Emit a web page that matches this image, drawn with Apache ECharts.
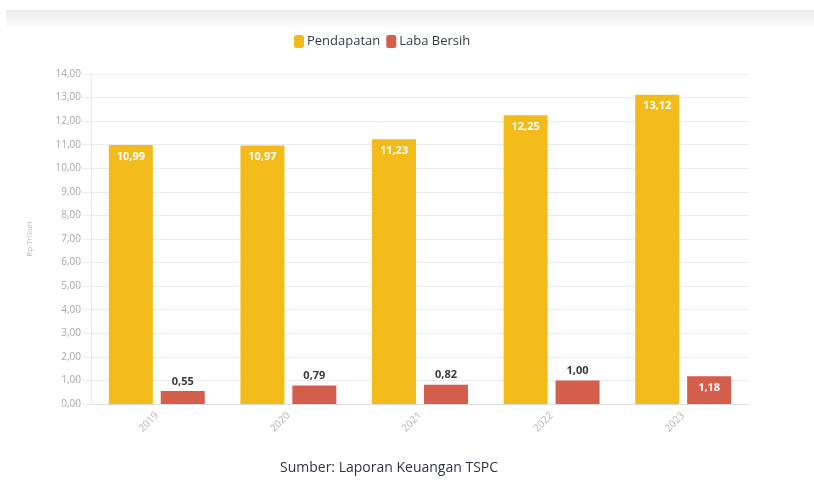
<!DOCTYPE html>
<html>
<head>
<meta charset="utf-8">
<script src="https://cdn.jsdelivr.net/npm/echarts@6/dist/echarts.min.js"></script>
<style>
html,body{margin:0;padding:0;background:#fff;}
#c{width:814px;height:482px;}
</style>
</head>
<body>
<div id="c"></div>
<script>
var categories = ['2019', '2020', '2021', '2022', '2023'];
var pendapatan = [10.99, 10.97, 11.23, 12.25, 13.12];
var labaBersih = [0.55, 0.79, 0.82, 1.00, 1.18];
var yTicks = [0, 1, 2, 3, 4, 5, 6, 7, 8, 9, 10, 11, 12, 13, 14];

function fmt(v) { return v.toFixed(2).replace('.', ','); }

var chart = echarts.init(document.getElementById('c'), null, {renderer: 'canvas'});
var font = '"Open Sans", "Noto Sans", sans-serif';

chart.setOption({
  animation: false,
  textStyle: {fontFamily: font},
  graphic: [
    {
      type: 'rect',
      left: 6, top: 10,
      shape: {width: 808, height: 20},
      style: {
        fill: new echarts.graphic.LinearGradient(0, 0, 0, 1, [
          {offset: 0, color: '#ececec'},
          {offset: 1, color: '#ffffff'}
        ])
      },
      silent: true
    },
    {
      type: 'text',
      left: 280, top: 461,
      style: {text: 'Sumber: Laporan Keuangan TSPC', fill: '#2f3440', font: '14px ' + font}
    }
  ],
  legend: {
    top: 30,
    left: 289,
    itemWidth: 10, itemHeight: 13, itemGap: 6,
    icon: 'roundRect',
    textStyle: {fontSize: 13, color: '#333a4a', fontFamily: font, padding: [0, 0, 0, -2]},
    data: ['Pendapatan', 'Laba Bersih']
  },
  grid: {left: 91, right: 65, top: 74, bottom: 78, containLabel: false},
  xAxis: {
    type: 'category',
    data: categories,
    axisLine: {lineStyle: {color: '#e0e0e0'}},
    axisTick: {alignWithLabel: true, length: 6, lineStyle: {color: '#e0e0e0'}},
    axisLabel: {rotate: 45, color: '#b5b5b5', fontSize: 10, margin: 10}
  },
  yAxis: {
    type: 'value',
    min: yTicks[0], max: yTicks[yTicks.length - 1], interval: 1,
    name: 'Rp Triliun',
    nameLocation: 'middle',
    nameGap: 57,
    nameTextStyle: {color: '#b8b8b8', fontSize: 8},
    axisLine: {show: true, lineStyle: {color: '#ececec'}},
    axisTick: {show: true, length: 8, lineStyle: {color: '#ececec'}},
    splitLine: {lineStyle: {color: '#ececec'}},
    axisLabel: {color: '#a8a8a8', fontSize: 10, margin: 10, formatter: function (v) { return fmt(v); }}
  },
  series: [
    {
      name: 'Pendapatan',
      type: 'bar',
      data: pendapatan,
      barWidth: 44,
      barGap: '18%',
      itemStyle: {color: '#f2bb1a'},
      label: {
        show: true, position: 'insideTop', distance: 6,
        color: '#ffffff', fontWeight: 'bold', fontSize: 11,
        formatter: function (p) { return fmt(p.value); }
      }
    },
    {
      name: 'Laba Bersih',
      type: 'bar',
      data: labaBersih.map(function (v, i) {
        if (i === labaBersih.length - 1) {
          return {value: v, label: {position: 'insideTop', color: '#ffffff', distance: 6}};
        }
        return v;
      }),
      barWidth: 44,
      itemStyle: {color: '#d45e4c'},
      label: {
        show: true, position: 'top', distance: 4,
        color: '#3a3a3a', fontWeight: 'bold', fontSize: 11,
        formatter: function (p) { return fmt(p.value); }
      }
    }
  ]
});
</script>
</body>
</html>
